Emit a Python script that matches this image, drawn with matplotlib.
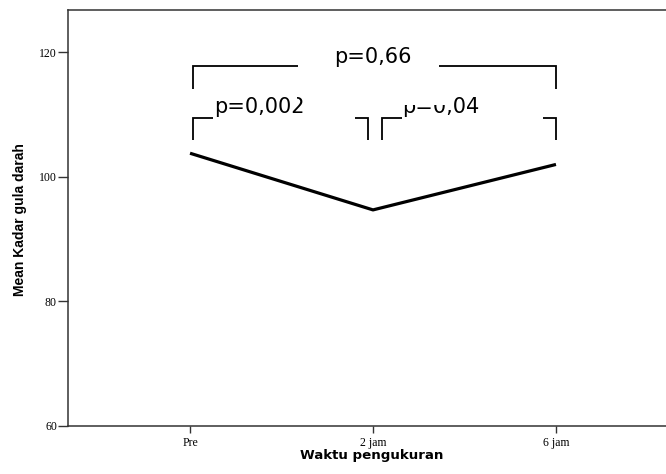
import matplotlib
matplotlib.use("Agg")
import matplotlib.pyplot as plt
from matplotlib.patches import Rectangle

# ---- data ----
categories = ["Pre", "2 jam", "6 jam"]
mean_values = [103.8, 94.7, 102.0]
y_ticks = [60, 80, 100, 120]
p_labels = ["p=0,002", "p=0,04", "p=0,66"]

fig = plt.figure(figsize=(6.66, 4.74), dpi=100)
ax = fig.add_axes([68/666, 48/474, 610/666, 416/474])

x = list(range(len(categories)))
ax.plot(x, mean_values, color="black", lw=2.3, solid_capstyle="butt", zorder=3)

ax.set_xlim(-0.667, 2.667)
ax.set_ylim(60, 126.8)
ax.set_xticks(x)
ax.set_xticklabels(categories, family="Liberation Serif", fontsize=8.5)
ax.set_yticks(y_ticks)
ax.set_yticklabels([str(v) for v in y_ticks], family="Liberation Serif", fontsize=8.5)
ax.tick_params(axis="y", direction="out", length=7, width=1.0, color="#333333", pad=1)
ax.tick_params(axis="x", direction="out", length=5, width=1.0, color="#333333", pad=3)
for s in ax.spines.values():
    s.set_color("#333333")
    s.set_linewidth(1.1)

ax.set_xlabel("Waktu pengukuran", family="DejaVu Sans", fontweight="bold", fontsize=9.6)
ax.xaxis.set_label_coords((372 - 68) / 610, -(456 - 426) / 416)
ax.xaxis.label.set_va("center")
ax.set_ylabel("Mean Kadar gula darah", family="Liberation Sans", fontweight="bold", fontsize=10)
ax.yaxis.set_label_coords(-(68 - 20) / 610, (426 - 220) / 416)
ax.yaxis.label.set_va("center")

bk = dict(color="black", lw=1.3, solid_capstyle="butt", solid_joinstyle="miter", zorder=4)
ptxt = dict(family="DejaVu Sans", fontsize=15, color="black", zorder=5)

# big bracket Pre - 6 jam
ax.plot([0.016, 0.016, 0.590], [114.1, 117.8, 117.8], **bk)
ax.plot([1.360, 2.0, 2.0], [117.8, 117.8, 114.1], **bk)
ax.text(1.0, 118.3, p_labels[2], ha="center", va="baseline", **ptxt)

# bracket Pre - 2 jam
ax.plot([0.016, 0.016, 0.125], [105.9, 109.5, 109.5], **bk)
ax.plot([0.902, 0.973, 0.973], [109.5, 109.5, 105.9], **bk)
ax.text(0.13, 110.3, p_labels[0], ha="left", va="baseline", **ptxt)

# bracket 2 jam - 6 jam
ax.plot([1.049, 1.049, 1.158], [105.9, 109.5, 109.5], **bk)
ax.plot([1.929, 2.0, 2.0], [109.5, 109.5, 105.9], **bk)
ax.text(1.16, 110.3, p_labels[1], ha="left", va="baseline", **ptxt)

# white overlaps that partly hide the labels, as in the original
ax.add_patch(Rectangle((0.546, 111.9), 0.040, 1.2, color="white", zorder=6, lw=0))
ax.add_patch(Rectangle((1.155, 111.6), 0.245, 1.7, color="white", zorder=6, lw=0))

fig.savefig("out.png", dpi=100)
